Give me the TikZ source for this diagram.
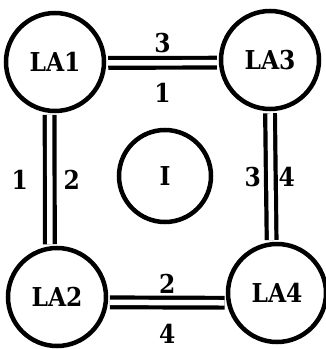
\documentclass[tikz,border=0pt]{standalone}
\usepackage{fontspec}
\newfontfamily\labelfont{DejaVu Serif Condensed}
\usepackage{tikz}

\begin{document}
\begin{tikzpicture}[
    x=1pt, y=1pt,
    site/.style={
        circle,
        draw,
        line width=4.5pt,
        minimum size=98pt,
        inner sep=0pt,
        font=\labelfont\fontsize{26}{30}\selectfont\bfseries
    },
    link/.style={
        double,
        double distance=5.5pt,
        line width=4.2pt,
        shorten <=2pt,
        shorten >=2pt
    },
    num/.style={font=\labelfont\fontsize{26}{30}\selectfont\bfseries, inner sep=0pt}
]
\useasboundingbox (0,0) rectangle (326,349);

\node[site] (la1) at (55,287) {LA1};
\node[site] (la3) at (270,289) {LA3};
\node[site] (la2) at (57,52) {LA2};
\node[site] (la4) at (277,56) {LA4};
\node[site, minimum size=92pt] (core) at (165,173) {I};

\draw[link] (la1.-1) -- (la3.183)
    node[num, midway, yshift=20pt] (t3) {3}
    node[num, midway, yshift=-30pt] (t1) {1};
\draw[link] (la1.264) -- (la2.98)
    node[num, midway, xshift=-30pt] (l1) {1}
    node[num, midway, xshift=22pt] (l2) {2};
\draw[link] (la3.270) -- (la4.96)
    node[num, midway, xshift=-18pt] (r3) {3}
    node[num, midway, xshift=16pt] (r4) {4};
\draw[link] (la2.-6) -- (la4.191)
    node[num, midway, yshift=19pt] (b2) {2}
    node[num, midway, yshift=-31pt] (b4) {4};

\end{tikzpicture}
\end{document}
